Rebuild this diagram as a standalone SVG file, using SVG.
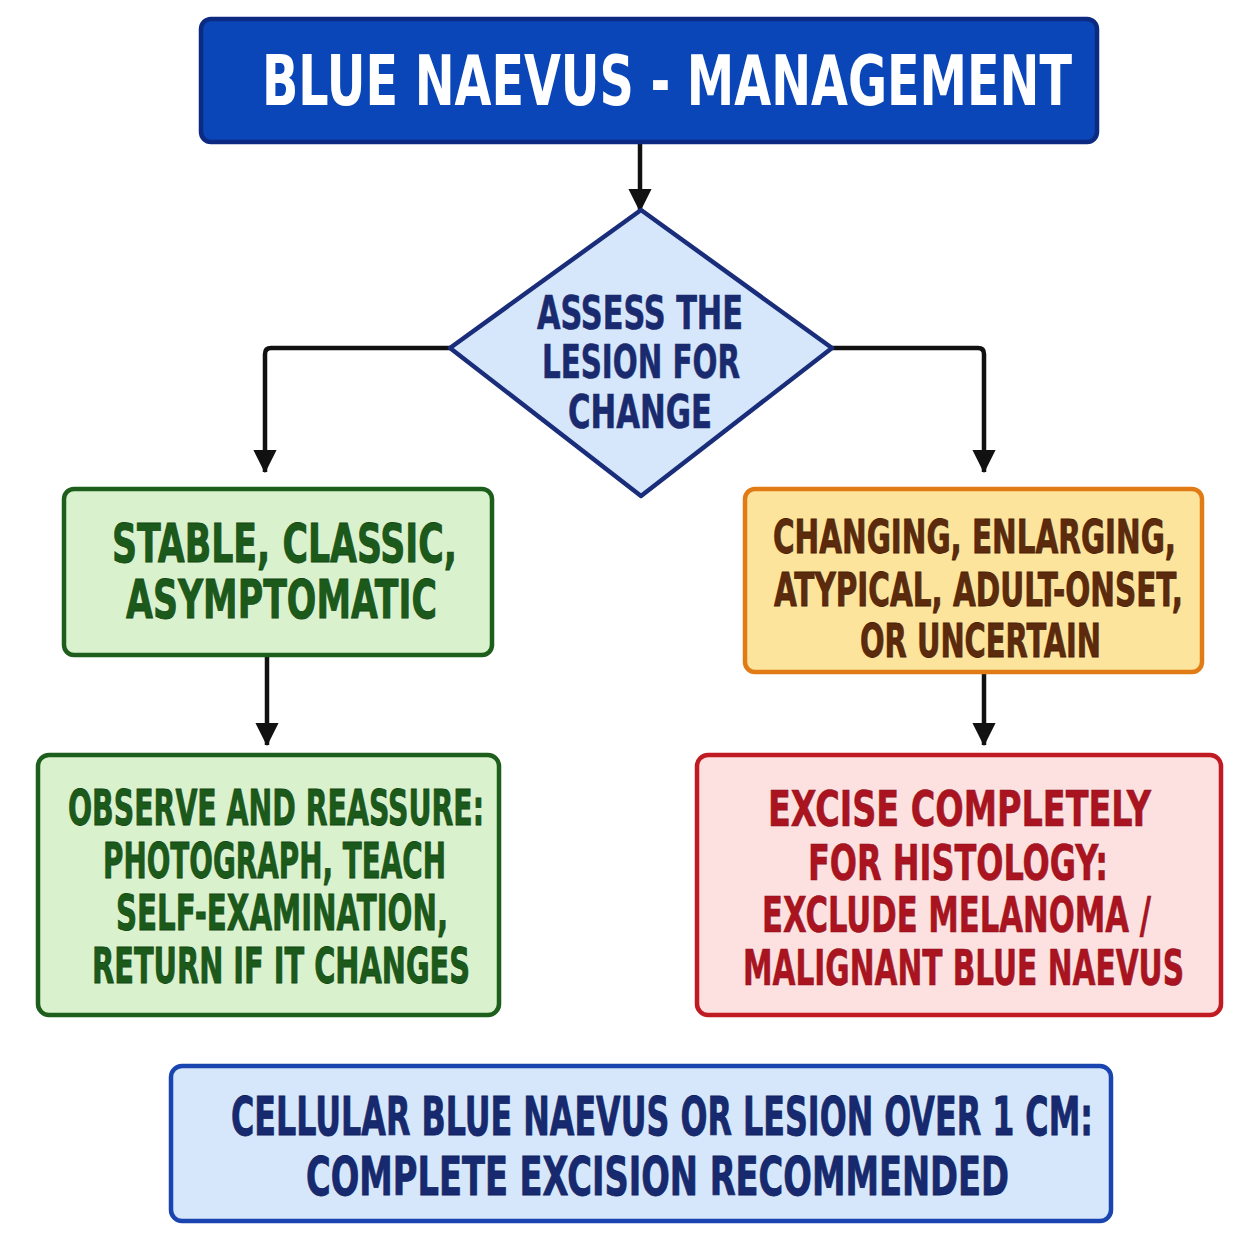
<svg xmlns="http://www.w3.org/2000/svg" width="1254" height="1254" viewBox="0 0 1254 1254">
<defs>
<style>
text{font-family:"Liberation Sans Narrow","DejaVu Sans Condensed","Liberation Sans",sans-serif;font-weight:bold;}
.box{stroke-width:4.5;}
.conn{fill:none;stroke:#111;stroke-width:4.5;stroke-linejoin:round;}
.t-title{fill:#ffffff;font-size:70px;}
.t-dia{fill:#1a2a6e;font-size:46px;stroke:#1a2a6e;stroke-width:0.6;}
.t-green{fill:#1b5a1b;stroke:#134713;stroke-width:0.8;}
.t-orange{fill:#5c2a0c;stroke:#4a1f06;stroke-width:0.8;}
.t-red{fill:#aa1420;stroke:#8e0f18;stroke-width:0.6;}
.t-blue{fill:#172a70;stroke:#0f1f5e;stroke-width:0.8;}
</style>
<marker id="ah" viewBox="0 0 10 10" refX="9.5" refY="5" markerWidth="5.2" markerHeight="5.2" markerUnits="strokeWidth" orient="auto">
<path d="M0,0 L10,5 L0,10 z" fill="#111"/>
</marker>
</defs>
<rect width="1254" height="1254" fill="#ffffff"/>

<g id="connectors">
<path class="conn" d="M640,143 V211" marker-end="url(#ah)"/>
<path class="conn" d="M450,348 H271 Q265,348 265,354 V472" marker-end="url(#ah)"/>
<path class="conn" d="M832,348 H978 Q984,348 984,354 V472" marker-end="url(#ah)"/>
<path class="conn" d="M267,655 V745" marker-end="url(#ah)"/>
<path class="conn" d="M984,673 V745" marker-end="url(#ah)"/>
</g>

<g id="title">
<rect class="box" x="201" y="19" width="896" height="123" rx="10" fill="#0a46b8" stroke="#0d2a82"/>
<text class="t-title" x="262" y="105" textLength="810" lengthAdjust="spacingAndGlyphs">BLUE NAEVUS - MANAGEMENT</text>
</g>

<g id="assess">
<path class="box" d="M641,210 L832,348 L641,496 L450,348 Z" fill="#d6e7fb" stroke="#1a2d7a" stroke-linejoin="round"/>
<text class="t-dia" x="537" y="329" textLength="206" lengthAdjust="spacingAndGlyphs">ASSESS THE</text>
<text class="t-dia" x="542" y="378" textLength="198" lengthAdjust="spacingAndGlyphs">LESION FOR</text>
<text class="t-dia" x="568" y="428" textLength="144" lengthAdjust="spacingAndGlyphs">CHANGE</text>
</g>

<g id="stable">
<rect class="box" x="64" y="489" width="428" height="166" rx="10" fill="#d9f2cd" stroke="#1d5e1d"/>
<text class="t-green" x="112" y="562" font-size="54" textLength="345" lengthAdjust="spacingAndGlyphs">STABLE, CLASSIC,</text>
<text class="t-green" x="126" y="618" font-size="54" textLength="311" lengthAdjust="spacingAndGlyphs">ASYMPTOMATIC</text>
</g>

<g id="changing">
<rect class="box" x="745" y="489" width="457" height="183" rx="10" fill="#fde49c" stroke="#e07b16"/>
<text class="t-orange" x="773" y="553" font-size="47" textLength="403" lengthAdjust="spacingAndGlyphs">CHANGING, ENLARGING,</text>
<text class="t-orange" x="774" y="606" font-size="47" textLength="409" lengthAdjust="spacingAndGlyphs">ATYPICAL, ADULT-ONSET,</text>
<text class="t-orange" x="860" y="657" font-size="47" textLength="241" lengthAdjust="spacingAndGlyphs">OR UNCERTAIN</text>
</g>

<g id="observe">
<rect class="box" x="38" y="755" width="461" height="260" rx="11" fill="#d9f2cd" stroke="#1d5e1d"/>
<text class="t-green" x="68" y="825" font-size="49" textLength="416" lengthAdjust="spacingAndGlyphs">OBSERVE AND REASSURE:</text>
<text class="t-green" x="103" y="878" font-size="49" textLength="343" lengthAdjust="spacingAndGlyphs">PHOTOGRAPH, TEACH</text>
<text class="t-green" x="116" y="930" font-size="49" textLength="332" lengthAdjust="spacingAndGlyphs">SELF-EXAMINATION,</text>
<text class="t-green" x="92" y="983" font-size="49" textLength="378" lengthAdjust="spacingAndGlyphs">RETURN IF IT CHANGES</text>
</g>

<g id="excise">
<rect class="box" x="697" y="755" width="524" height="260" rx="11" fill="#fde1e1" stroke="#c01a22"/>
<text class="t-red" x="768" y="826" font-size="50" textLength="383" lengthAdjust="spacingAndGlyphs">EXCISE COMPLETELY</text>
<text class="t-red" x="808" y="880" font-size="50" textLength="300" lengthAdjust="spacingAndGlyphs">FOR HISTOLOGY:</text>
<text class="t-red" x="762" y="932" font-size="50" textLength="389" lengthAdjust="spacingAndGlyphs">EXCLUDE MELANOMA /</text>
<text class="t-red" x="743" y="985" font-size="50" textLength="441" lengthAdjust="spacingAndGlyphs">MALIGNANT BLUE NAEVUS</text>
</g>

<g id="cellular">
<rect class="box" x="171" y="1066" width="940" height="155" rx="11" fill="#d6e7fb" stroke="#1a45b0"/>
<text class="t-blue" x="231" y="1135" font-size="53" textLength="862" lengthAdjust="spacingAndGlyphs">CELLULAR BLUE NAEVUS OR LESION OVER 1 CM:</text>
<text class="t-blue" x="306" y="1195" font-size="53" textLength="703" lengthAdjust="spacingAndGlyphs">COMPLETE EXCISION RECOMMENDED</text>
</g>
</svg>
